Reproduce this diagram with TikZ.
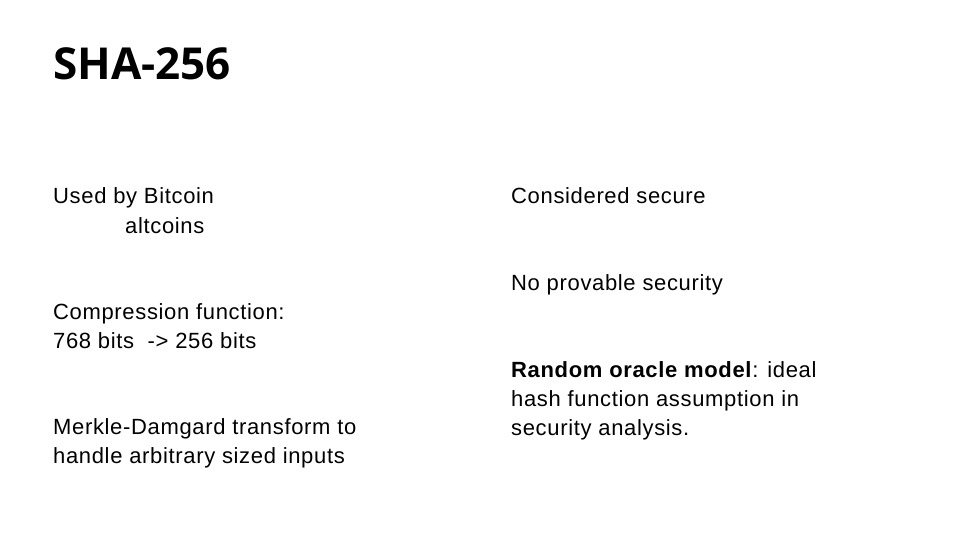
\documentclass[tikz,border=0pt]{standalone}
\usepackage{fontspec}
\setmainfont{Liberation Sans}
\newfontfamily\titlefont{Open Sans}
\begin{document}
\begin{tikzpicture}[x=1pt,y=-1pt,
  txt/.style={anchor=base west,inner sep=0pt,font=\fontsize{22}{29}\selectfont\addfontfeatures{LetterSpace=3},text=black},
  ttl/.style={anchor=base west,inner sep=0pt,font=\titlefont\bfseries\fontsize{44}{50}\selectfont,text=black}]
\path[fill=white] (0,0) rectangle (960,540);
\node[ttl] (title) at (53,80) {SHA-256};
\node[txt] (l1a) at (53,204) {Used by Bitcoin};
\node[txt] (l1b) at (125,233) {altcoins};
\node[txt] (l2a) at (53,319) {Compression function:};
\node[txt] (l2b) at (53,348) {768 bits \ -> 256 bits};
\node[txt] (l3a) at (53,434) {Merkle-Damgard transform to};
\node[txt] (l3b) at (53,463) {handle arbitrary sized inputs};
\node[txt] (r1) at (511,204) {Considered secure};
\node[txt] (r2) at (511,290) {No provable security};
\node[txt] (r3a) at (511,377) {\textbf{Random oracle model}: ideal};
\node[txt] (r3b) at (511,406) {hash function assumption in};
\node[txt] (r3c) at (511,435) {security analysis.};
\end{tikzpicture}
\end{document}
